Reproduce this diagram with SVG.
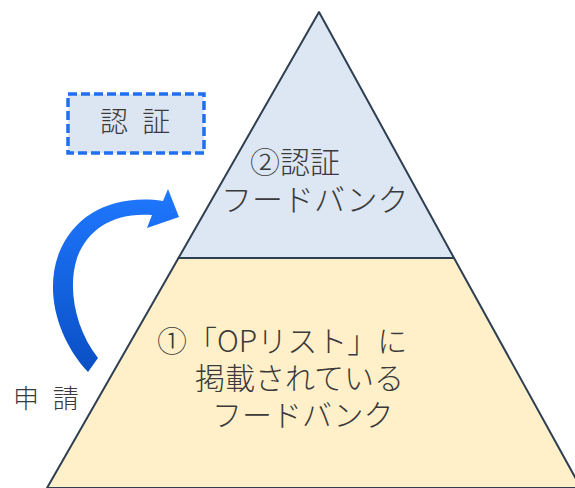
<svg xmlns="http://www.w3.org/2000/svg" width="575" height="488" viewBox="0 0 575 488">
<defs>
<style>
.t{font-family:"Noto Sans CJK JP","Noto Sans",sans-serif;fill:#3a3a3a;font-weight:300;}
.tier{stroke:#2f3f52;stroke-width:2;stroke-linejoin:round;}
</style>
<linearGradient id="ag" x1="0" y1="0" x2="0" y2="1">
<stop offset="0" stop-color="#1f78ff"/>
<stop offset="1" stop-color="#0a4fc4"/>
</linearGradient>
</defs>
<rect width="575" height="488" fill="#ffffff"/>
<g id="tier-bottom">
<polygon class="tier" points="178.5,258 454,258 581,488 47,488" fill="#fff0c9"/>
<text class="t" font-size="30"><tspan x="157" y="352">①「OPリスト」に</tspan><tspan x="195" y="389">掲載されている</tspan><tspan x="212" y="426">フードバンク</tspan></text>
</g>
<g id="tier-top">
<polygon class="tier" points="319,12 454,258 178.5,258" fill="#dce7f3"/>
<text class="t" font-size="30"><tspan x="250" y="173">②認証</tspan><tspan x="221" y="211" font-size="31">フードバンク</tspan></text>
</g>
<g id="auth-box">
<rect x="68" y="94" width="136" height="59" fill="#dce6f2" stroke="#1f6ff0" stroke-width="3.5" stroke-dasharray="9,4"/>
<text class="t" x="100" y="132" font-size="28" word-spacing="8">認 証</text>
</g>
<g id="apply-label">
<text class="t" x="13" y="408" font-size="26" word-spacing="8">申 請</text>
</g>
<g id="connectors">
<path d="M88,372 C58,340 44,292 59,253 C75,213 115,194 163,201 L168,189 L179,217 L147,228 L152,215 C115,212 88,228 77,258 C67,290 76,330 98,358 Z" fill="url(#ag)"/>
</g>
</svg>
